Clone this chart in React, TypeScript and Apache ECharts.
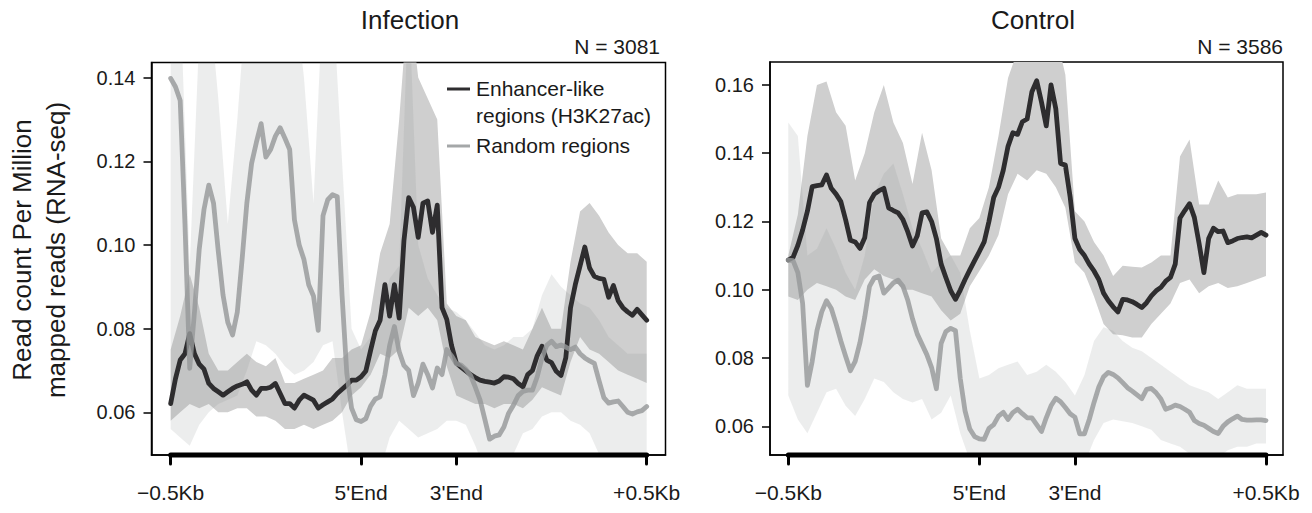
import React, { useEffect, useRef } from "react";
import * as echarts from "echarts";

// Bin positions: 40 bins upstream, 20 bins across the region body, 40 bins downstream.
const xTickValues = [0, 40, 60, 100];
const xTickLabels = ["\u22120.5Kb", "5'End", "3'End", "+0.5Kb"];

const infectionYTicks = [0.06, 0.08, 0.1, 0.12, 0.14];
const controlYTicks = [0.06, 0.08, 0.1, 0.12, 0.14, 0.16];

// Mean profiles, one value per bin (101 bins)
const infectionEnhancer = [
  0.0621, 0.068, 0.0725, 0.074, 0.0788, 0.074, 0.0715, 0.0703, 0.0669, 0.0657,
  0.0649, 0.0641, 0.0649, 0.0657, 0.0663, 0.0667, 0.0673, 0.0653, 0.0641, 0.0657,
  0.0657, 0.066, 0.0669, 0.0645, 0.0621, 0.0621, 0.061, 0.0629, 0.0641, 0.0635,
  0.0629, 0.061, 0.0618, 0.0625, 0.0632, 0.0645, 0.0655, 0.0665, 0.0677, 0.0677,
  0.0685, 0.0699, 0.0748, 0.0795, 0.082, 0.0905, 0.083, 0.0905, 0.0825, 0.101,
  0.1113, 0.109, 0.1018, 0.11, 0.1105, 0.103, 0.1095, 0.085, 0.0822, 0.076,
  0.0718, 0.0708, 0.0699, 0.069, 0.0683, 0.0677, 0.0674, 0.0672, 0.067, 0.0675,
  0.0685, 0.0684, 0.068, 0.0669, 0.0661, 0.069, 0.07, 0.0735, 0.0758, 0.0725,
  0.0719, 0.0698, 0.0688, 0.073, 0.085, 0.0905, 0.095, 0.0995, 0.0945, 0.0925,
  0.092, 0.0918, 0.0875, 0.0903, 0.0867, 0.085, 0.084, 0.0832, 0.0846, 0.0833,
  0.082,
];

const infectionRandom = [
  0.1398, 0.1378, 0.1345, 0.105, 0.0705, 0.084, 0.099, 0.1085, 0.1143, 0.11,
  0.0985, 0.088, 0.0815, 0.0785, 0.084, 0.0965, 0.11, 0.1195, 0.1245, 0.129,
  0.121, 0.1228, 0.126, 0.128, 0.1255, 0.1228, 0.106, 0.1, 0.0965, 0.0905,
  0.0878, 0.0796, 0.107, 0.1108, 0.112, 0.1115, 0.088, 0.0693, 0.061, 0.0582,
  0.0578, 0.0585, 0.0615, 0.0632, 0.0637, 0.069, 0.076, 0.0805, 0.0745, 0.0712,
  0.07, 0.064, 0.067, 0.0715, 0.069, 0.0658, 0.0706, 0.069, 0.075, 0.0735,
  0.0716, 0.0713, 0.0703, 0.0688, 0.066, 0.0629, 0.0583, 0.0536, 0.0543, 0.0546,
  0.0565, 0.0598, 0.0617, 0.064, 0.065, 0.0653, 0.0653, 0.0685, 0.073, 0.076,
  0.077, 0.0757, 0.0761, 0.0756, 0.075, 0.0756, 0.074, 0.073, 0.0723, 0.0717,
  0.0675, 0.0635, 0.0622, 0.0625, 0.0627, 0.0614, 0.06, 0.0596, 0.0601, 0.0604,
  0.0614,
];

const controlEnhancer = [
  0.1087, 0.1095, 0.113, 0.1175, 0.123, 0.1302, 0.1305, 0.1307, 0.1336, 0.1297,
  0.128, 0.1258, 0.1205, 0.1145, 0.114, 0.1121, 0.1152, 0.1255, 0.128, 0.129,
  0.1297, 0.124, 0.1232, 0.1225, 0.1205, 0.117, 0.1128, 0.1158, 0.1225, 0.1228,
  0.12, 0.115, 0.1075, 0.1035, 0.0997, 0.0972, 0.0999, 0.103, 0.1058, 0.1085,
  0.1112, 0.114, 0.12, 0.127, 0.13, 0.135, 0.142, 0.146, 0.1455, 0.1492,
  0.15, 0.158, 0.1612, 0.155, 0.148, 0.16, 0.153, 0.137, 0.1365, 0.1272,
  0.115, 0.1118, 0.11, 0.1075, 0.1055, 0.103, 0.099, 0.0968, 0.095, 0.0935,
  0.0972, 0.097, 0.0965, 0.0957, 0.0948, 0.0962, 0.0982, 0.0997, 0.1007, 0.1025,
  0.1036, 0.1075, 0.121, 0.1232, 0.1252, 0.1212, 0.1135, 0.105, 0.115, 0.118,
  0.117, 0.1172, 0.1138, 0.1143, 0.115, 0.1153, 0.1155, 0.1152, 0.116, 0.1168,
  0.116,
];

const controlRandom = [
  0.1087, 0.1085, 0.105, 0.096, 0.072, 0.079, 0.088, 0.0935, 0.0968, 0.0945,
  0.09, 0.085, 0.0805, 0.0763, 0.079, 0.0845, 0.092, 0.101, 0.1035, 0.104,
  0.099, 0.1005, 0.102, 0.1028, 0.101, 0.097, 0.0915, 0.087, 0.084, 0.081,
  0.0772, 0.071, 0.0843, 0.0878, 0.0887, 0.088, 0.074, 0.0645, 0.0592, 0.057,
  0.0563, 0.0562, 0.0594, 0.0605, 0.063, 0.0641, 0.062, 0.064, 0.065, 0.0637,
  0.0625, 0.0625, 0.0605, 0.0585, 0.0625, 0.066, 0.0682, 0.0672, 0.0655, 0.0637,
  0.0627, 0.0578, 0.0578, 0.062, 0.067, 0.0715, 0.0745, 0.0758, 0.0752, 0.0742,
  0.0728, 0.0713, 0.0703, 0.0692, 0.0681, 0.0708, 0.0711, 0.0698, 0.068, 0.065,
  0.0655, 0.0662, 0.0658, 0.065, 0.0641, 0.0617, 0.0608, 0.0603, 0.0594, 0.0585,
  0.0579, 0.06, 0.0613, 0.0622, 0.063, 0.062, 0.0618, 0.0618, 0.0619, 0.0619,
  0.0617,
];

// Confidence bands, sampled every second bin (0, 2, ..., 100)
const infectionEnhancerLow = [
  0.058, 0.06, 0.062, 0.061, 0.062, 0.06, 0.06, 0.061, 0.061, 0.059,
  0.059, 0.058, 0.056, 0.056, 0.057, 0.056, 0.057, 0.058, 0.06, 0.064,
  0.066, 0.069, 0.074, 0.073, 0.075, 0.085, 0.083, 0.085, 0.082, 0.071,
  0.064, 0.063, 0.062, 0.062, 0.061, 0.062, 0.062, 0.061, 0.063, 0.066,
  0.065, 0.064, 0.072, 0.078, 0.075, 0.074, 0.072, 0.07, 0.069, 0.068,
  0.067,
];
const infectionEnhancerHigh = [
  0.075, 0.083, 0.093, 0.085, 0.074, 0.07, 0.07, 0.072, 0.074, 0.072,
  0.071, 0.073, 0.067, 0.067, 0.068, 0.069, 0.07, 0.073, 0.073, 0.075,
  0.076, 0.084, 0.098, 0.105, 0.13, 0.16, 0.14, 0.135, 0.13, 0.086,
  0.083, 0.082, 0.078, 0.077, 0.076, 0.077, 0.076, 0.075, 0.08, 0.085,
  0.08, 0.08, 0.096, 0.108, 0.11, 0.107, 0.103, 0.1, 0.098, 0.098,
  0.096,
];
const infectionRandomLow = [
  0.056, 0.054, 0.052, 0.057, 0.06, 0.062, 0.063, 0.064, 0.07, 0.077,
  0.076, 0.074, 0.071, 0.069, 0.07, 0.072, 0.076, 0.077, 0.06, 0.045,
  0.045, 0.045, 0.046, 0.054, 0.058, 0.056, 0.054, 0.055, 0.056, 0.058,
  0.058, 0.057, 0.052, 0.046, 0.045, 0.046, 0.05, 0.055, 0.056, 0.059,
  0.06, 0.06, 0.058, 0.057, 0.055, 0.05, 0.046, 0.046, 0.045, 0.045,
  0.045,
];
const infectionRandomHigh = [
  0.16, 0.16, 0.095, 0.15, 0.16, 0.135, 0.105, 0.13, 0.16, 0.16,
  0.16, 0.16, 0.16, 0.16, 0.14, 0.11, 0.16, 0.16, 0.12, 0.08,
  0.075, 0.078, 0.082, 0.092, 0.095, 0.16, 0.1, 0.092, 0.088, 0.085,
  0.084, 0.082, 0.079, 0.076, 0.075, 0.076, 0.078, 0.078, 0.08, 0.088,
  0.093, 0.09, 0.088, 0.086, 0.085, 0.082, 0.078, 0.076, 0.074, 0.074,
  0.074,
];

const controlEnhancerLow = [
  0.098, 0.097, 0.1, 0.102, 0.101, 0.1, 0.098, 0.097, 0.103, 0.106,
  0.104, 0.103, 0.1, 0.1, 0.099, 0.098, 0.094, 0.091, 0.093, 0.101,
  0.1055, 0.11, 0.116, 0.128, 0.134, 0.132, 0.135, 0.134, 0.13, 0.124,
  0.108, 0.105, 0.098, 0.09, 0.087, 0.0867, 0.086, 0.086, 0.09, 0.093,
  0.096, 0.102, 0.103, 0.099, 0.101, 0.102, 0.1005, 0.101, 0.102, 0.103,
  0.104,
];
const controlEnhancerHigh = [
  0.11, 0.122, 0.145, 0.16, 0.161, 0.152, 0.148, 0.132, 0.14, 0.152,
  0.16, 0.149, 0.143, 0.131, 0.146, 0.135, 0.115, 0.11, 0.11, 0.118,
  0.121, 0.13, 0.145, 0.162, 0.17, 0.175, 0.175, 0.175, 0.175, 0.163,
  0.123, 0.12, 0.114, 0.11, 0.104, 0.107, 0.1067, 0.1065, 0.108, 0.11,
  0.11, 0.139, 0.144, 0.125, 0.125, 0.132, 0.127, 0.128, 0.128, 0.128,
  0.1285,
];
const controlRandomLow = [
  0.069, 0.062, 0.058, 0.064, 0.07, 0.071, 0.066, 0.063, 0.068, 0.074,
  0.073, 0.07, 0.068, 0.067, 0.068, 0.062, 0.064, 0.069, 0.058, 0.05,
  0.05, 0.05, 0.049, 0.049, 0.049, 0.05, 0.051, 0.051, 0.05, 0.05,
  0.049, 0.049, 0.056, 0.061, 0.062, 0.0615, 0.061, 0.06, 0.059, 0.056,
  0.055, 0.054, 0.052, 0.05, 0.05, 0.051, 0.053, 0.054, 0.054, 0.055,
  0.055,
];
const controlRandomHigh = [
  0.149, 0.145, 0.11, 0.112, 0.118, 0.112, 0.105, 0.1, 0.11, 0.128,
  0.134, 0.137, 0.128, 0.118, 0.112, 0.105, 0.108, 0.11, 0.105, 0.088,
  0.074, 0.075, 0.077, 0.078, 0.079, 0.075, 0.076, 0.078, 0.076, 0.073,
  0.069, 0.075, 0.085, 0.089, 0.088, 0.085, 0.083, 0.082, 0.08, 0.078,
  0.076, 0.074, 0.072, 0.071, 0.07, 0.068, 0.07, 0.072, 0.071, 0.071,
  0.071,
];

const FONT = '"Liberation Sans", Arial, Helvetica, sans-serif';
const INK = "#1a1a1a";
const ENH_LINE = "#2e2d2f";
const RND_LINE = "rgba(150,153,154,0.82)";
const ENH_BAND = "#cfcfcf";
const RND_BAND = "rgba(139,142,142,0.16)";

type Panel = {
  grid: { left: number; top: number; width: number; height: number };
  xMin: number;
  xMax: number;
  yMin: number;
  yMax: number;
  yTicks: number[];
  enhancer: number[];
  random: number[];
  enhLow: number[];
  enhHigh: number[];
  rndLow: number[];
  rndHigh: number[];
};

const panels: Panel[] = [
  {
    grid: { left: 151.5, top: 62.5, width: 514, height: 392.5 },
    xMin: -4.03,
    xMax: 103.95,
    yMin: 0.0498,
    yMax: 0.1436,
    yTicks: infectionYTicks,
    enhancer: infectionEnhancer,
    random: infectionRandom,
    enhLow: infectionEnhancerLow,
    enhHigh: infectionEnhancerHigh,
    rndLow: infectionRandomLow,
    rndHigh: infectionRandomHigh,
  },
  {
    grid: { left: 770, top: 62, width: 513, height: 393 },
    xMin: -3.83,
    xMax: 103.56,
    yMin: 0.0516,
    yMax: 0.1667,
    yTicks: controlYTicks,
    enhancer: controlEnhancer,
    random: controlRandom,
    enhLow: controlEnhancerLow,
    enhHigh: controlEnhancerHigh,
    rndLow: controlRandomLow,
    rndHigh: controlRandomHigh,
  },
];

// Shaded band between the low and high bounds, drawn as one clipped polygon
function bandSeries(idx: number, low: number[], high: number[], color: string) {
  return {
    type: "custom",
    xAxisIndex: idx,
    yAxisIndex: idx,
    silent: true,
    clip: true,
    data: low.map((v, k) => [k * 2, v, high[k]]),
    encode: { x: 0, y: [1, 2] },
    renderItem: (params: any, api: any) => {
      if (params.dataIndex !== 0) return null;
      const pts: number[][] = [];
      for (let k = 0; k < high.length; k++) pts.push(api.coord([k * 2, high[k]]));
      for (let k = low.length - 1; k >= 0; k--) pts.push(api.coord([k * 2, low[k]]));
      return {
        type: "polygon",
        shape: { points: pts },
        style: { fill: color, stroke: "none" },
      };
    },
  };
}

function lineSeries(idx: number, values: number[], color: string) {
  return {
    type: "line",
    xAxisIndex: idx,
    yAxisIndex: idx,
    symbol: "none",
    silent: true,
    data: values.map((v, i) => [i, v]),
    lineStyle: { color, width: 4.8, cap: "round", join: "round" },
  };
}

function buildOption() {
  const grid: any[] = [];
  const xAxis: any[] = [];
  const yAxis: any[] = [];
  const series: any[] = [];

  panels.forEach((p, idx) => {
    grid.push({
      ...p.grid,
      show: true,
      borderColor: "#000",
      borderWidth: 1.5,
      backgroundColor: "transparent",
    });
    xAxis.push({
      gridIndex: idx,
      type: "value",
      min: p.xMin,
      max: p.xMax,
      splitLine: { show: false },
      axisLine: { show: true, onZero: false, lineStyle: { color: "#000", width: 1.5 } },
      axisTick: {
        show: true,
        customValues: xTickValues,
        length: 9,
        lineStyle: { color: "#000", width: 3, cap: "round" },
      },
      axisLabel: {
        customValues: xTickValues,
        formatter: (v: number) => xTickLabels[xTickValues.indexOf(Math.round(v))] ?? "",
        fontSize: 21,
        fontFamily: FONT,
        color: INK,
        margin: 27,
      },
    });
    yAxis.push({
      gridIndex: idx,
      type: "value",
      min: p.yMin,
      max: p.yMax,
      splitLine: { show: false },
      axisLine: { show: true, onZero: false, lineStyle: { color: "#000", width: 1.5 } },
      axisTick: {
        show: true,
        customValues: p.yTicks,
        length: 8,
        lineStyle: { color: "#000", width: 1.5 },
      },
      axisLabel: {
        customValues: p.yTicks,
        formatter: (v: number) => v.toFixed(2),
        fontSize: 20,
        fontFamily: FONT,
        color: INK,
        margin: 16,
      },
    });

    series.push(bandSeries(idx, p.enhLow, p.enhHigh, ENH_BAND));
    series.push(lineSeries(idx, p.enhancer, ENH_LINE));
    series.push(bandSeries(idx, p.rndLow, p.rndHigh, RND_BAND));
    series.push(lineSeries(idx, p.random, RND_LINE));
    // thick bar marking the profiled span along the bottom axis
    series.push({
      type: "line",
      xAxisIndex: idx,
      yAxisIndex: idx,
      symbol: "none",
      silent: true,
      clip: false,
      z: 5,
      data: [
        [xTickValues[0], p.yMin],
        [xTickValues[xTickValues.length - 1], p.yMin],
      ],
      lineStyle: { color: "#000", width: 5, cap: "round" },
    });
  });

  const text = (
    str: string,
    x: number,
    y: number,
    size: number,
    align: string,
    rotation = 0
  ) => ({
    type: "text",
    x,
    y,
    z: 100,
    rotation,
    silent: true,
    style: {
      text: str,
      fill: INK,
      fontSize: size,
      fontFamily: FONT,
      align,
      textAlign: align,
      verticalAlign: "middle",
      textVerticalAlign: "middle",
    },
  });

  const graphic = [
    text("Infection", 410, 20, 26, "center"),
    text("Control", 1033, 20, 26, "center"),
    text("N = 3081", 660, 46, 21, "right"),
    text("N = 3586", 1283, 46, 21, "right"),
    text("Read count Per Million", 22, 250, 26, "center", Math.PI / 2),
    text("mapped reads (RNA-seq)", 56, 250, 26, "center", Math.PI / 2),
    {
      type: "line",
      z: 100,
      silent: true,
      shape: { x1: 447, y1: 89, x2: 470, y2: 89 },
      style: { stroke: ENH_LINE, lineWidth: 3 },
    },
    {
      type: "line",
      z: 100,
      silent: true,
      shape: { x1: 447, y1: 146, x2: 470, y2: 146 },
      style: { stroke: "#a4a7a8", lineWidth: 3 },
    },
    text("Enhancer-like", 476, 88, 21, "left"),
    text("regions (H3K27ac)", 476, 115, 21, "left"),
    text("Random regions", 476, 145, 21, "left"),
  ];

  return {
    animation: false,
    backgroundColor: "#fff",
    grid,
    xAxis,
    yAxis,
    series,
    graphic: { elements: graphic },
  };
}

export default function App() {
  const ref = useRef<HTMLDivElement>(null);

  useEffect(() => {
    if (!ref.current) return;
    const chart = echarts.init(ref.current, undefined, { renderer: "svg" });
    chart.setOption(buildOption() as any);
    return () => chart.dispose();
  }, []);

  return (
    <div
      ref={ref}
      style={{ position: "fixed", left: 0, top: 0, width: 1312, height: 513 }}
    />
  );
}
